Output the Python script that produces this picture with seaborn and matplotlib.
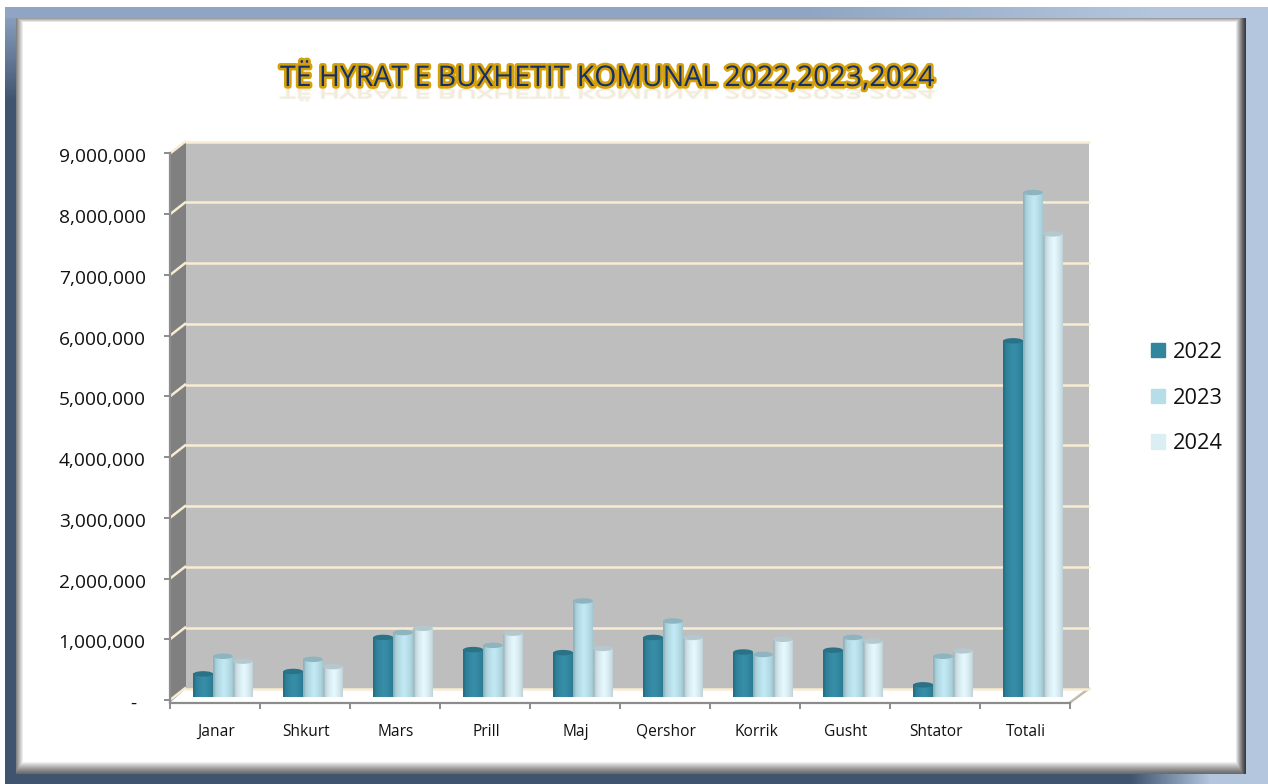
import numpy as np
import pandas as pd
import matplotlib
matplotlib.use("Agg")
import matplotlib.pyplot as plt
import matplotlib.patheffects as pe
from matplotlib.patches import Ellipse, Patch, Polygon
from matplotlib.transforms import Affine2D, ScaledTranslation
import seaborn as sns

W, H = 1268, 784

months = ["Janar", "Shkurt", "Mars", "Prill", "Maj", "Qershor", "Korrik", "Gusht", "Shtator", "Totali"]
years = ["2022", "2023", "2024"]
v2022 = [380000, 420000, 980000, 780000, 730000, 980000, 740000, 770000, 200000, 5860000]
v2023 = [670000, 620000, 1060000, 850000, 1580000, 1250000, 700000, 980000, 670000, 8300000]
v2024 = [590000, 500000, 1130000, 1050000, 800000, 980000, 950000, 920000, 760000, 7620000]
y_ticks = [0, 1000000, 2000000, 3000000, 4000000, 5000000, 6000000, 7000000, 8000000, 9000000]
colors = ["#31859c", "#b7dee8", "#dbeef4"]
# cylinder shading: edge colour, highlight colour, cap colour
shades = [("#236f85", "#388ea8", "#2a7287"), ("#8fb3bd", "#c2eaf4", "#8db4bf"), ("#a3b8bf", "#e6f9ff", "#b4c8ce")]
grid_col = "#f8ecd2"
axis_col = "#8c8c8c"

df = pd.DataFrame({
    "muaji": months * 3,
    "viti": sum([[y] * len(months) for y in years], []),
    "vlera": v2022 + v2023 + v2024,
})


def hex_rgb(c):
    return np.array(matplotlib.colors.to_rgb(c))


def make_background():
    light = hex_rgb("#b3c6de")
    dark = hex_rgb("#40536f")
    top = hex_rgb("#8fa5c3")
    img = np.ones((H, W, 3))
    xx, yy = np.meshgrid(np.arange(W), np.arange(H))
    # blue frame
    img[:] = light
    k = np.clip((xx - 1130) / 80, 0, 1)[..., None]
    bottom = dark * (1 - k) + light * k
    img[yy > 600] = bottom[yy > 600]
    k = np.clip((yy - 10) / 90, 0, 1)[..., None]
    left = top * (1 - k) + dark * k
    img[xx < 100] = left[xx < 100]
    k = np.clip((xx - 800) / 350, 0, 1)[..., None]
    upper = top * (1 - k) + light * k
    img[yy < 18] = upper[yy < 18]
    img[:7] = 1
    img[:, :5] = 1
    # white panel with bevel
    x0, x1, y0, y1 = 16, 1246, 18, 774
    panel = np.ones((H, W))
    panel = np.minimum(panel, 0.52 + 0.48 * np.clip((xx - x0) / 7, 0, 1))
    panel = np.minimum(panel, 0.62 + 0.38 * np.clip((yy - y0) / 4, 0, 1))
    panel = np.minimum(panel, 0.2 + 0.8 * np.clip((x1 - xx) / 11, 0, 1) ** 1.3)
    panel = np.minimum(panel, 0.4 + 0.6 * np.clip((y1 - yy) / 13, 0, 1) ** 1.3)
    inside = (xx >= x0) & (xx < x1) & (yy >= y0) & (yy < y1)
    img[inside] = np.repeat(panel[inside][:, None], 3, axis=1)
    return img


def add_axes(fig, left, top, right, bottom):
    return fig.add_axes([left / W, 1 - bottom / H, (right - left) / W, (bottom - top) / H])


class Reflection(pe.AbstractPathEffect):
    # faint mirrored copy under the title
    def __init__(self, baseline, alpha):
        self.baseline = baseline
        self.alpha = alpha

    def draw_path(self, renderer, gc, tpath, affine, rgbFace=None):
        flip = affine + Affine2D().translate(0, -self.baseline).scale(1, -0.45).translate(0, self.baseline - 3)
        gc0 = renderer.new_gc()
        gc0.copy_properties(gc)
        gc0.set_alpha(self.alpha)
        gc0.set_linewidth(1.5)
        gc0.set_foreground((0.75, 0.6, 0.25))
        renderer.draw_path(gc0, tpath, flip, (0.75, 0.6, 0.25))
        gc0.restore()


sns.set_theme(style="white")
plt.rcParams["font.family"] = ["Open Sans", "DejaVu Sans"]

fig = plt.figure(figsize=(W / 100, H / 100), dpi=100)

ax_bg = fig.add_axes([0, 0, 1, 1], zorder=0)
ax_bg.imshow(make_background(), extent=(0, W, H, 0), aspect="auto", interpolation="nearest")
ax_bg.set_xlim(0, W)
ax_bg.set_ylim(H, 0)
ax_bg.axis("off")

# three planes of the fake 3d box: back wall, bars, front axis
ax_wall = add_axes(fig, 186, 141.5, 1089, 688.5)
ax_front = add_axes(fig, 170, 153.5, 1070, 702.5)
ax = add_axes(fig, 178, 150, 1078, 697)
ax_wall.set_zorder(1)
ax_front.set_zorder(2)
ax.set_zorder(3)

y_max = y_ticks[-1]
ax_wall.set_facecolor("#bebebe")
ax_wall.set_xlim(0, 1)
ax_wall.set_ylim(0, y_max)
for s in ax_wall.spines.values():
    s.set_visible(False)
ax_wall.set_xticks([])
ax_wall.set_yticks([])
for v in y_ticks:
    ax_wall.axhline(v, color=grid_col, lw=1.8, clip_on=False)

# side wall and floor
ax_bg.add_patch(Polygon([(170, 153.5), (186, 141.5), (186, 688.5), (170, 702.5)], color="#808080", lw=0))
for v in y_ticks:
    yy = 700 - v / y_max * 546.5
    ax_bg.plot([170, 186], [yy, yy - 12.5], color=grid_col, lw=1.8, solid_capstyle="butt")
ax_bg.plot([1070, 1089], [702.5, 688.5], color="#c4bcaa", lw=1.8)

ax_front.patch.set_alpha(0)
ax_front.set_xlim(-0.5, len(months) - 0.5)
ax_front.set_ylim(-41000, y_max)
for name, s in ax_front.spines.items():
    s.set_visible(name in ("left", "bottom"))
    s.set_color(axis_col)
    s.set_linewidth(1.6)
ax_front.set_xticks(np.arange(len(months) + 1) - 0.5)
ax_front.set_xticklabels([])
ax_front.set_yticks(y_ticks)
ax_front.set_yticklabels([f"{v:,}" if v else "" for v in y_ticks])
ax_front.tick_params(axis="y", which="major", left=True, length=4.5, width=1.4, color=axis_col, pad=13,
                     labelsize=13.8, labelcolor="#111111")
ax_front.tick_params(axis="x", which="major", bottom=True, length=4, width=1.4, color=axis_col)
for lab in ax_front.get_yticklabels():
    lab.set_transform(lab.get_transform() + ScaledTranslation(0, -2 / 100, fig.dpi_scale_trans))
ax_front.annotate("-", xy=(0, 0), xycoords=ax_front.get_yaxis_transform(), xytext=(-37, -4),
                  textcoords="offset pixels", ha="center", va="center", fontsize=13.8, color="#111111")
# month names sit between the ticks, on one baseline
for i, m in enumerate(months):
    ax_front.annotate(m, xy=(i, 0), xycoords=ax_front.get_xaxis_transform(), xytext=(1, -33),
                      textcoords="offset pixels", ha="center", va="baseline", fontsize=11.2, color="#111111")

sns.barplot(data=df, x="muaji", y="vlera", hue="viti", order=months, hue_order=years, palette=colors,
            width=0.66, gap=0, saturation=1, legend=False, ax=ax)
ax.patch.set_alpha(0)
ax.set_xlabel("")
ax.set_ylabel("")
ax.set_xticks([])
ax.set_yticks([])
for s in ax.spines.values():
    s.set_visible(False)

# turn flat bars into cylinders
bar_shades = [c for c in shades for _ in months]
cap_h = 90000
for bar, (edge, high, cap) in zip(ax.patches, bar_shades):
    x0, w, h = bar.get_x(), bar.get_width(), bar.get_height()
    bar.set_visible(False)
    t = np.linspace(0, 1, 24)
    k = np.clip(1 - np.abs(t - 0.55) / 0.5, 0, 1) ** 0.4
    grad = (hex_rgb(edge)[None, :] * (1 - k[:, None]) + hex_rgb(high)[None, :] * k[:, None])[None, ...]
    ax.add_patch(Ellipse((x0 + w / 2, 0), w, cap_h, color=edge, lw=0, zorder=3))
    ax.imshow(grad, extent=(x0, x0 + w, 0, h), aspect="auto", zorder=4, interpolation="bilinear")
    ax.add_patch(Ellipse((x0 + w / 2, h), w, cap_h, color=cap, lw=0, zorder=5))
ax.set_xlim(-0.5, len(months) - 0.5)
ax.set_ylim(0, y_max)

handles = [Patch(color=c, label=y) for c, y in zip(colors, years)]
fig.legend(handles=handles, loc="center left", bbox_to_anchor=(1151 / W, 1 - 398 / H), frameon=False,
           fontsize=15.7, handlelength=0.64, handleheight=0.64, handletextpad=0.37, labelspacing=1.14,
           borderpad=0, borderaxespad=0, labelcolor="#111111")

title = ax_bg.text(607, 86, "TË HYRAT E BUXHETIT KOMUNAL 2022,2023,2024", ha="center", va="baseline",
                   fontsize=20.5, fontweight="normal", color="#14306b")
title.set_path_effects([Reflection(H - 86, 0.1), pe.withStroke(linewidth=3.8, foreground="#d6a008")])

fig.savefig("out.png", dpi=100)
